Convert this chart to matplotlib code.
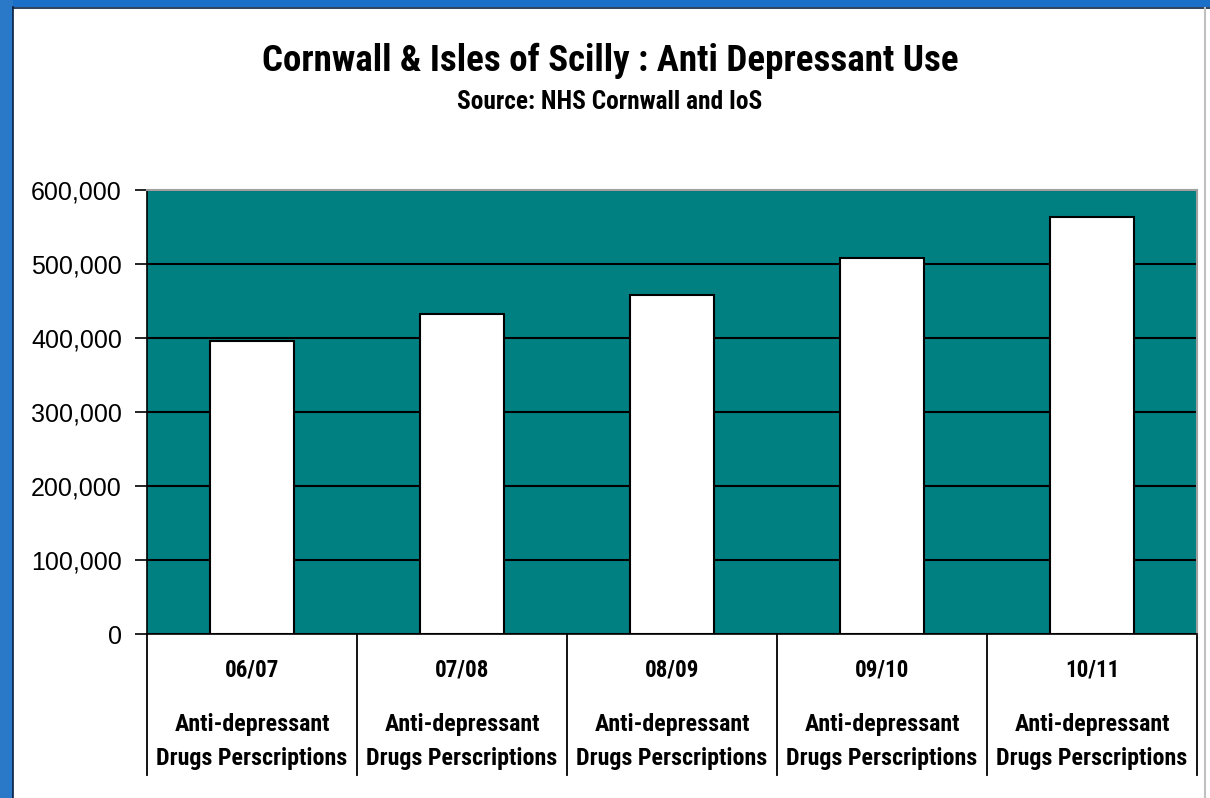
import matplotlib
matplotlib.use("Agg")
import matplotlib.pyplot as plt
from matplotlib import font_manager
from matplotlib.patches import Rectangle
from matplotlib.lines import Line2D
from matplotlib.ticker import FuncFormatter

years = ["06/07", "07/08", "08/09", "09/10", "10/11"]
series_name = ["Anti-depressant", "Drugs Perscriptions"]
values = [396000, 432000, 458000, 508000, 563000]
yticks = [0, 100000, 200000, 300000, 400000, 500000, 600000]

title = "Cornwall & Isles of Scilly : Anti Depressant Use"
subtitle = "Source: NHS Cornwall and IoS"

installed = {f.name for f in font_manager.fontManager.ttflist}
narrow_name, k = "Liberation Sans", 1.0
for cand in ["Liberation Sans Narrow", "Arial Narrow", "Roboto Condensed",
             "Open Sans Condensed", "DejaVu Sans Condensed"]:
    if cand in installed:
        narrow_name, k = cand, 1.2
        break
narrow = [narrow_name, "DejaVu Sans"]
regular = ["Liberation Sans", "DejaVu Sans"]

W, H = 1210, 798
fig = plt.figure(figsize=(W / 100, H / 100), dpi=100)
fig.patch.set_facecolor("white")

# blue frame
fig.add_artist(Rectangle((0, 1 - 7 / H), 1, 7 / H, transform=fig.transFigure,
                         facecolor="#1a6fc8", edgecolor="none", zorder=0))
fig.add_artist(Rectangle((0, 0), 13 / W, 1, transform=fig.transFigure,
                         facecolor="#2a78c8", edgecolor="none", zorder=0))
fig.add_artist(Line2D([13 / W, 13 / W], [0, 1 - 7 / H], transform=fig.transFigure,
                      color="#0a2040", lw=1.2))
fig.add_artist(Line2D([13 / W, 1], [1 - 7.5 / H, 1 - 7.5 / H], transform=fig.transFigure,
                      color="#0a2040", lw=1.2))
fig.add_artist(Line2D([1205 / W, 1205 / W], [0, 1 - 8 / H], transform=fig.transFigure,
                      color="#c0c0c0", lw=1.5))

left, right = 147 / W, 1197 / W
bottom, top = 1 - 634 / H, 1 - 190 / H
ax = fig.add_axes([left, bottom, right - left, top - bottom])
ax.set_facecolor("#008080")

x = list(range(len(years)))
ax.bar(x, values, width=0.40, color="white", edgecolor="black", linewidth=1.5, zorder=3)

ax.set_xlim(-0.5, len(years) - 0.5)
ax.set_ylim(0, 600000)
ax.set_yticks(yticks)
ax.yaxis.set_major_formatter(FuncFormatter(lambda v, p: f"{int(v):,}"))
for lab in ax.get_yticklabels():
    lab.set_family(regular)
    lab.set_fontsize(18)
ax.tick_params(axis="y", direction="out", length=9, width=1.2, pad=9, colors="black")
ax.set_xticks([])
ax.grid(axis="y", color="black", linewidth=1.5, zorder=1)
ax.set_axisbelow(True)

for s in ["top", "right"]:
    ax.spines[s].set_color("#a0a0a0")
    ax.spines[s].set_linewidth(1.5)
ax.spines["left"].set_color("black")
ax.spines["left"].set_linewidth(1.2)
ax.spines["bottom"].set_color("black")
ax.spines["bottom"].set_linewidth(1.2)
ax.spines["bottom"].set_zorder(5)

# multi-level category axis
trans = ax.get_xaxis_transform()
ph = 634 - 190
sep_bottom = -(775 - 634) / ph
for i in range(len(years) + 1):
    xs = i - 0.5
    ax.plot([xs, xs], [0, sep_bottom], transform=trans, color="black",
            lw=1.3, clip_on=False)
for i, yr in enumerate(years):
    ax.text(i, -(670 - 634) / ph, yr, transform=trans, ha="center", va="center",
            fontsize=13.8 * k, fontweight="bold", family=narrow)
    ax.text(i, -(724 - 634) / ph, series_name[0], transform=trans, ha="center",
            va="center", fontsize=14.4 * k, fontweight="bold", family=narrow)
    ax.text(i, -(758 - 634) / ph, series_name[1], transform=trans, ha="center",
            va="center", fontsize=14.4 * k, fontweight="bold", family=narrow)

fig.text(610 / W, 1 - 61 / H, title, ha="center", va="center", fontsize=22.2 * k,
         fontweight="bold", family=narrow)
fig.text(610 / W, 1 - 102 / H, subtitle, ha="center", va="center", fontsize=15.2 * k,
         fontweight="bold", family=narrow)

fig.savefig("out.png", dpi=100, facecolor=fig.get_facecolor())
